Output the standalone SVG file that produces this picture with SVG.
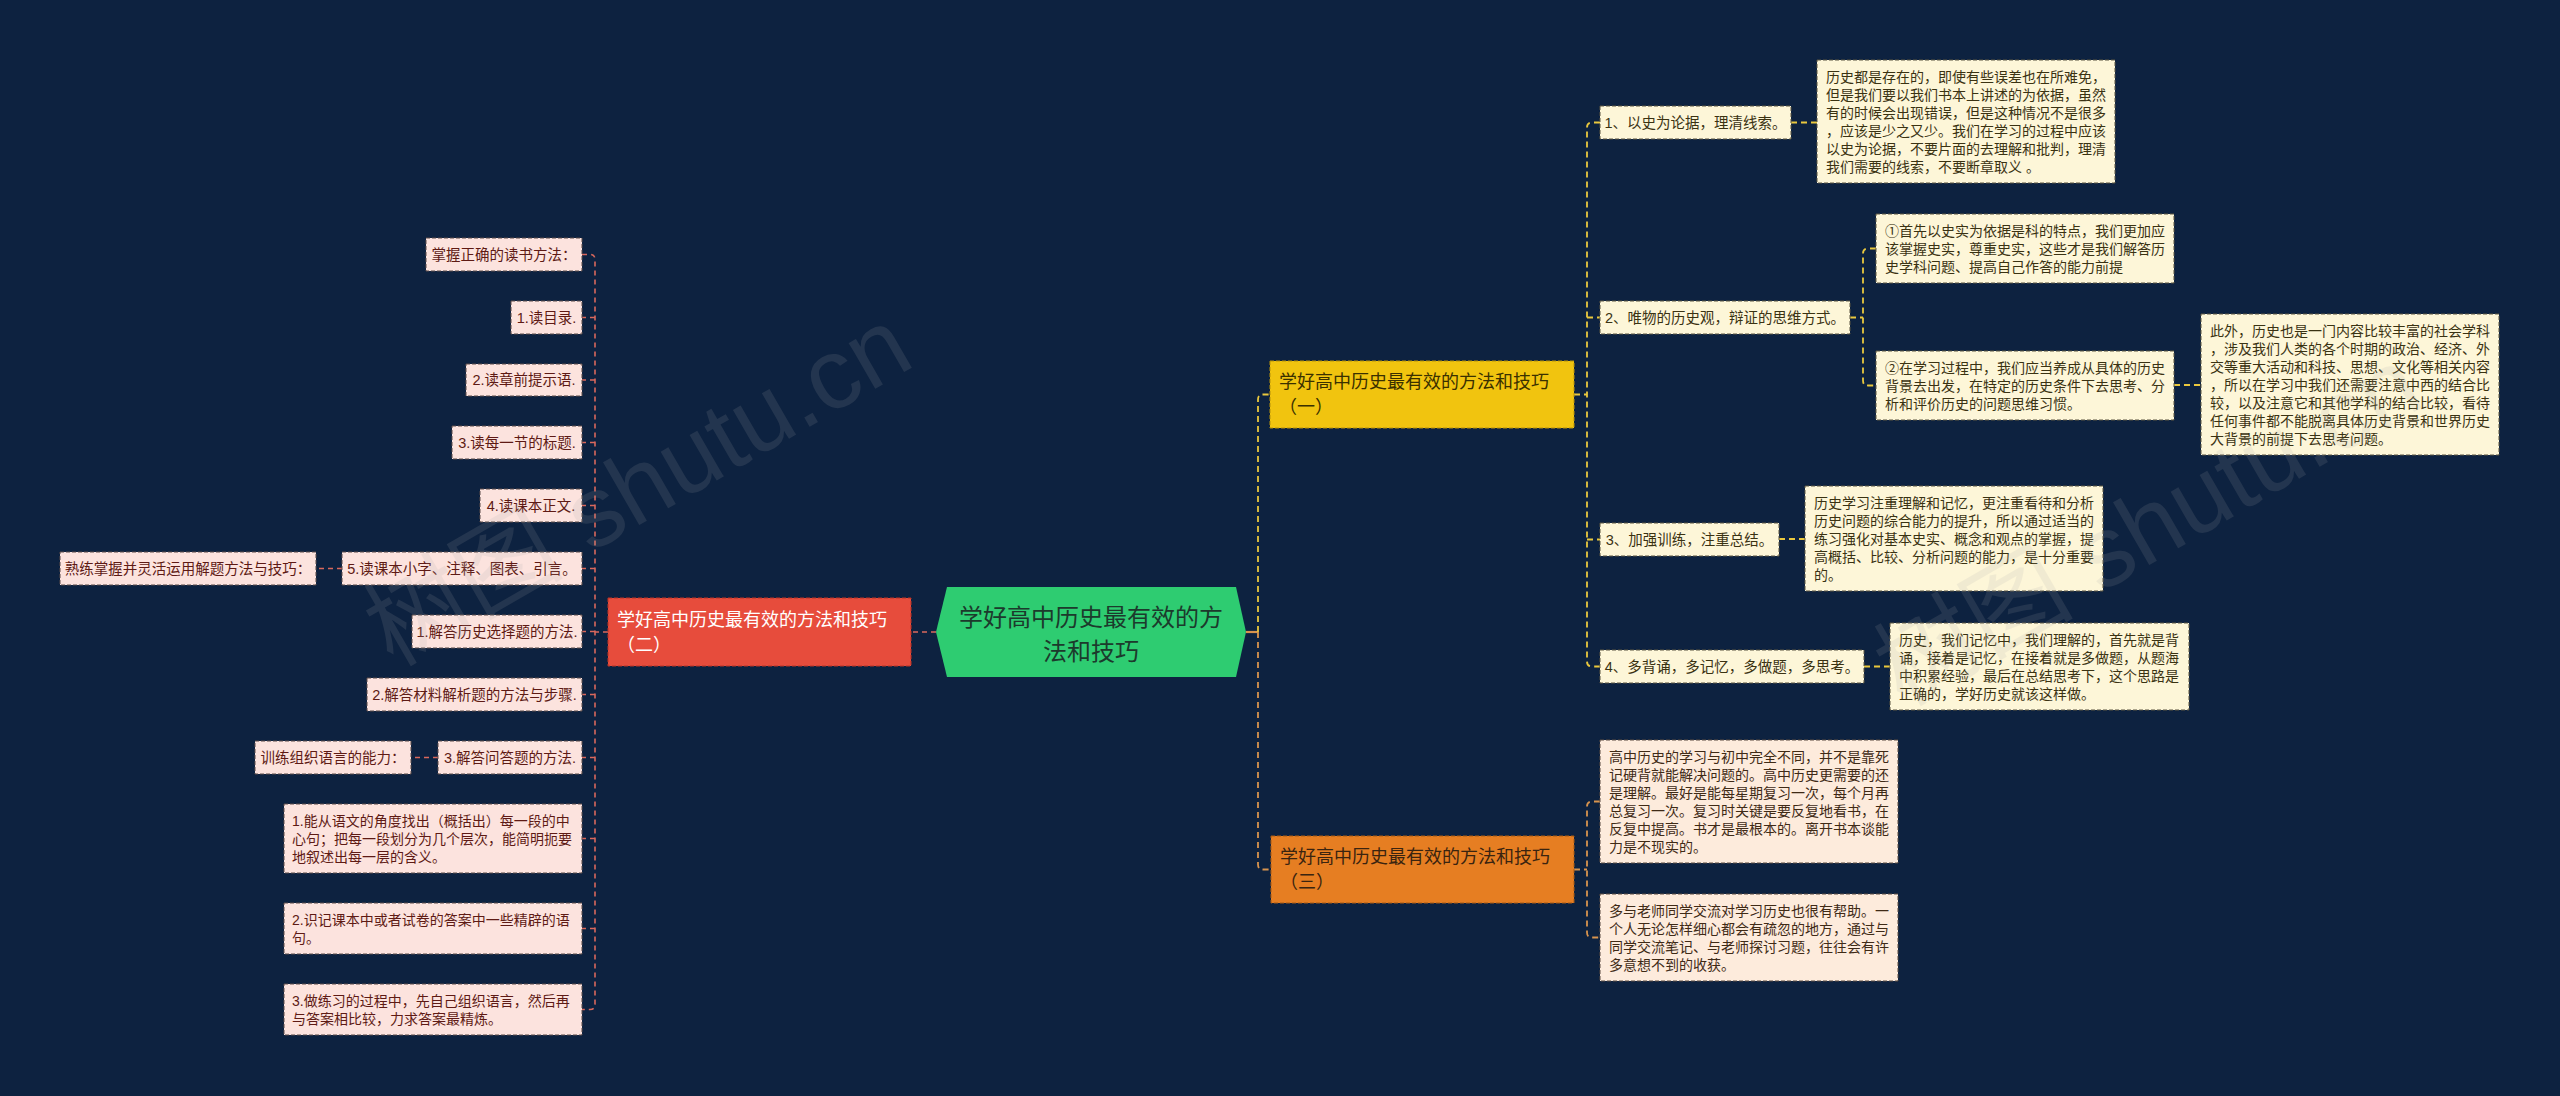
<svg xmlns="http://www.w3.org/2000/svg" width="2560" height="1096" viewBox="0 0 2560 1096">
<defs>
<style>
text{font-family:"Liberation Sans","Noto Sans CJK SC",sans-serif;}
.bg{fill:#0d2240;}
.lbox{fill:#fce3de;stroke:#5a4a48;stroke-width:1;stroke-dasharray:4 2;}
.ybox{fill:#fdf6d8;stroke:#5a5440;stroke-width:1;stroke-dasharray:4 2;}
.obox{fill:#fdebdc;stroke:#5a4a40;stroke-width:1;stroke-dasharray:4 2;}
.lt{fill:#5e1a14;font-size:14.5px;}
.yt{fill:#3a3212;font-size:14.5px;}
.ot{fill:#3f2a16;font-size:14.5px;}
.m{font-size:14px;}
.c{text-anchor:middle;}
.lc{fill:none;stroke:#d9685c;stroke-width:1.6;stroke-dasharray:5 4;}
.yc{fill:none;stroke:#e9c83e;stroke-width:1.8;stroke-dasharray:6 4;}
.oc{fill:none;stroke:#d8944e;stroke-width:1.8;stroke-dasharray:6 4;}
.wm{font-size:100px;fill:#a8a8a8;opacity:0.14;}
</style>
</defs>
<rect class="bg" x="0" y="0" width="2560" height="1096"/>

<g id="connectors">
<path class="lc" d="M936 632H911"/>
<path class="lc" d="M608 632H595"/>
<path class="lc" d="M582 254.5H590Q595 254.5 595 259.5V1004.5Q595 1009.5 590 1009.5H582"/>
<path class="lc" d="M595 317.5H582M595 380H582M595 442.5H582M595 505.5H582M595 568.5H582M595 631.5H582M595 694.5H582M595 757.5H582M595 838.5H582M595 928.5H582"/>
<path class="lc" d="M342 568.5H316"/>
<path class="lc" d="M438 757.5H411"/>
<path d="M1246 632H1258" fill="none" stroke="#d8944e" stroke-width="2.2"/>
<path class="yc" d="M1258 632V399.5Q1258 394.5 1263 394.5H1270"/>
<path class="oc" d="M1258 632V864.5Q1258 869.5 1263 869.5H1271"/>
<path class="yc" d="M1574 394.5H1587"/>
<path class="yc" d="M1600 122.5H1592Q1587 122.5 1587 127.5V661.5Q1587 666.5 1592 666.5H1600"/>
<path class="yc" d="M1587 317.5H1600M1587 539.5H1600"/>
<path class="yc" d="M1791 122.5H1817"/>
<path class="yc" d="M1850 317.5H1863"/>
<path class="yc" d="M1876 248.5H1868Q1863 248.5 1863 253.5V380.5Q1863 385.5 1868 385.5H1876"/>
<path class="yc" d="M2174 385H2201"/>
<path class="yc" d="M1779 539H1805"/>
<path class="yc" d="M1864 666.5H1890"/>
<path class="oc" d="M1574 869.5H1587"/>
<path class="oc" d="M1600 801.5H1592Q1587 801.5 1587 806.5V932.5Q1587 937.5 1592 937.5H1600"/>
</g>

<g id="root">
<polygon points="947,587 1236,587 1246,632 1236,677 947,677 936,632" fill="#2ecc71"/>
<text x="1091" y="617" text-anchor="middle" dominant-baseline="central" font-size="24" fill="#1c3a2c">学好高中历史最有效的方</text>
<text x="1091" y="651" text-anchor="middle" dominant-baseline="central" font-size="24" fill="#1c3a2c">法和技巧</text>
</g>

<g id="branch2">
<rect x="608" y="598" width="303" height="68" fill="#e74c3c" stroke="#b83226" stroke-width="1" stroke-dasharray="4 2"/>
<text x="617" y="620" dominant-baseline="central" font-size="18" fill="#ffffff">学好高中历史最有效的方法和技巧</text>
<text x="617" y="645" dominant-baseline="central" font-size="18" fill="#ffffff">（二）</text>
</g>

<g id="branch1">
<rect x="1270" y="361" width="304" height="67" fill="#f1c40f" stroke="#b8920a" stroke-width="1" stroke-dasharray="4 2"/>
<text x="1279" y="382" dominant-baseline="central" font-size="18" fill="#3a3000">学好高中历史最有效的方法和技巧</text>
<text x="1279" y="407" dominant-baseline="central" font-size="18" fill="#3a3000">（一）</text>
</g>

<g id="branch3">
<rect x="1271" y="836" width="303" height="67" fill="#e67e22" stroke="#a85a14" stroke-width="1" stroke-dasharray="4 2"/>
<text x="1280" y="857" dominant-baseline="central" font-size="18" fill="#3a2410">学好高中历史最有效的方法和技巧</text>
<text x="1280" y="882" dominant-baseline="central" font-size="18" fill="#3a2410">（三）</text>
</g>

<!-- left leaves -->
<g id="l0"><rect class="lbox" x="426" y="238" width="156" height="33"/><text class="lt c" x="504" y="254.5" dominant-baseline="central">掌握正确的读书方法：</text></g>
<g id="l1"><rect class="lbox" x="511" y="301" width="71" height="33"/><text class="lt c" x="546.5" y="317.5" dominant-baseline="central">1.读目录.</text></g>
<g id="l2"><rect class="lbox" x="466" y="364" width="116" height="32"/><text class="lt c" x="524" y="380" dominant-baseline="central">2.读章前提示语.</text></g>
<g id="l3"><rect class="lbox" x="452" y="426" width="130" height="33"/><text class="lt c" x="517" y="442.5" dominant-baseline="central">3.读每一节的标题.</text></g>
<g id="l4"><rect class="lbox" x="480" y="489" width="102" height="33"/><text class="lt c" x="531" y="505.5" dominant-baseline="central">4.读课本正文.</text></g>
<g id="l5"><rect class="lbox" x="342" y="552" width="240" height="33"/><text class="lt c" x="462" y="568.5" dominant-baseline="central">5.读课本小字、注释、图表、引言。</text></g>
<g id="l5a"><rect class="lbox" x="60" y="552" width="256" height="33"/><text class="lt c" x="188" y="568.5" dominant-baseline="central">熟练掌握并灵活运用解题方法与技巧：</text></g>
<g id="l6"><rect class="lbox" x="412" y="615" width="170" height="33"/><text class="lt c" x="497" y="631.5" dominant-baseline="central">1.解答历史选择题的方法.</text></g>
<g id="l7"><rect class="lbox" x="367" y="678" width="215" height="33"/><text class="lt c" x="474.5" y="694.5" dominant-baseline="central">2.解答材料解析题的方法与步骤.</text></g>
<g id="l8"><rect class="lbox" x="438" y="741" width="144" height="33"/><text class="lt c" x="510" y="757.5" dominant-baseline="central">3.解答问答题的方法.</text></g>
<g id="l8a"><rect class="lbox" x="255" y="741" width="156" height="33"/><text class="lt c" x="333" y="757.5" dominant-baseline="central">训练组织语言的能力：</text></g>
<g id="l9"><rect class="lbox" x="284" y="804" width="298" height="69"/>
<text class="lt m" x="292" dominant-baseline="central"><tspan x="292" y="821">1.能从语文的角度找出（概括出）每一段的中</tspan><tspan x="292" y="839">心句；把每一段划分为几个层次，能简明扼要</tspan><tspan x="292" y="857">地叙述出每一层的含义。</tspan></text></g>
<g id="l10"><rect class="lbox" x="284" y="903" width="298" height="51"/>
<text class="lt m" x="292" dominant-baseline="central"><tspan x="292" y="920">2.识记课本中或者试卷的答案中一些精辟的语</tspan><tspan x="292" y="938">句。</tspan></text></g>
<g id="l11"><rect class="lbox" x="284" y="984" width="298" height="51"/>
<text class="lt m" x="292" dominant-baseline="central"><tspan x="292" y="1001">3.做练习的过程中，先自己组织语言，然后再</tspan><tspan x="292" y="1019">与答案相比较，力求答案最精炼。</tspan></text></g>

<!-- right leaves (branch 1) -->
<g id="r1"><rect class="ybox" x="1600" y="106" width="191" height="33"/><text class="yt c" x="1695.5" y="122.5" dominant-baseline="central">1、以史为论据，理清线索。</text></g>
<g id="r1a"><rect class="ybox" x="1817" y="60" width="298" height="123"/>
<text class="yt m" dominant-baseline="central"><tspan x="1826" y="77">历史都是存在的，即使有些误差也在所难免，</tspan><tspan x="1826" y="95">但是我们要以我们书本上讲述的为依据，虽然</tspan><tspan x="1826" y="113">有的时候会出现错误，但是这种情况不是很多</tspan><tspan x="1826" y="131">，应该是少之又少。我们在学习的过程中应该</tspan><tspan x="1826" y="149">以史为论据，不要片面的去理解和批判，理清</tspan><tspan x="1826" y="167">我们需要的线索，不要断章取义 。</tspan></text></g>
<g id="r2"><rect class="ybox" x="1600" y="301" width="250" height="33"/><text class="yt c" x="1725" y="317.5" dominant-baseline="central">2、唯物的历史观，辩证的思维方式。</text></g>
<g id="r2a"><rect class="ybox" x="1876" y="214" width="298" height="69"/>
<text class="yt m" dominant-baseline="central"><tspan x="1885" y="231">①首先以史实为依据是科的特点，我们更加应</tspan><tspan x="1885" y="249">该掌握史实，尊重史实，这些才是我们解答历</tspan><tspan x="1885" y="267">史学科问题、提高自己作答的能力前提</tspan></text></g>
<g id="r2b"><rect class="ybox" x="1876" y="351" width="298" height="69"/>
<text class="yt m" dominant-baseline="central"><tspan x="1885" y="368">②在学习过程中，我们应当养成从具体的历史</tspan><tspan x="1885" y="386">背景去出发，在特定的历史条件下去思考、分</tspan><tspan x="1885" y="404">析和评价历史的问题思维习惯。</tspan></text></g>
<g id="r2c"><rect class="ybox" x="2201" y="314" width="298" height="141"/>
<text class="yt m" dominant-baseline="central"><tspan x="2210" y="331">此外，历史也是一门内容比较丰富的社会学科</tspan><tspan x="2210" y="349">，涉及我们人类的各个时期的政治、经济、外</tspan><tspan x="2210" y="367">交等重大活动和科技、思想、文化等相关内容</tspan><tspan x="2210" y="385">，所以在学习中我们还需要注意中西的结合比</tspan><tspan x="2210" y="403">较，以及注意它和其他学科的结合比较，看待</tspan><tspan x="2210" y="421">任何事件都不能脱离具体历史背景和世界历史</tspan><tspan x="2210" y="439">大背景的前提下去思考问题。</tspan></text></g>
<g id="r3"><rect class="ybox" x="1600" y="523" width="179" height="33"/><text class="yt c" x="1689.5" y="539.5" dominant-baseline="central">3、加强训练，注重总结。</text></g>
<g id="r3a"><rect class="ybox" x="1805" y="486" width="298" height="105"/>
<text class="yt m" dominant-baseline="central"><tspan x="1814" y="503">历史学习注重理解和记忆，更注重看待和分析</tspan><tspan x="1814" y="521">历史问题的综合能力的提升，所以通过适当的</tspan><tspan x="1814" y="539">练习强化对基本史实、概念和观点的掌握，提</tspan><tspan x="1814" y="557">高概括、比较、分析问题的能力，是十分重要</tspan><tspan x="1814" y="575">的。</tspan></text></g>
<g id="r4"><rect class="ybox" x="1600" y="650" width="264" height="33"/><text class="yt c" x="1732" y="666.5" dominant-baseline="central">4、多背诵，多记忆，多做题，多思考。</text></g>
<g id="r4a"><rect class="ybox" x="1890" y="623" width="299" height="87"/>
<text class="yt m" dominant-baseline="central"><tspan x="1899" y="640">历史，我们记忆中，我们理解的，首先就是背</tspan><tspan x="1899" y="658">诵，接着是记忆，在接着就是多做题，从题海</tspan><tspan x="1899" y="676">中积累经验，最后在总结思考下，这个思路是</tspan><tspan x="1899" y="694">正确的，学好历史就该这样做。</tspan></text></g>

<!-- right leaves (branch 3) -->
<g id="o1"><rect class="obox" x="1600" y="740" width="298" height="123"/>
<text class="ot m" dominant-baseline="central"><tspan x="1609" y="757">高中历史的学习与初中完全不同，并不是靠死</tspan><tspan x="1609" y="775">记硬背就能解决问题的。高中历史更需要的还</tspan><tspan x="1609" y="793">是理解。最好是能每星期复习一次，每个月再</tspan><tspan x="1609" y="811">总复习一次。复习时关键是要反复地看书，在</tspan><tspan x="1609" y="829">反复中提高。书才是最根本的。离开书本谈能</tspan><tspan x="1609" y="847">力是不现实的。</tspan></text></g>
<g id="o2"><rect class="obox" x="1600" y="894" width="298" height="87"/>
<text class="ot m" dominant-baseline="central"><tspan x="1609" y="911">多与老师同学交流对学习历史也很有帮助。一</tspan><tspan x="1609" y="929">个人无论怎样细心都会有疏忽的地方，通过与</tspan><tspan x="1609" y="947">同学交流笔记、与老师探讨习题，往往会有许</tspan><tspan x="1609" y="965">多意想不到的收获。</tspan></text></g>

<g id="watermarks">
<text class="wm" x="640" y="520" text-anchor="middle" transform="rotate(-30 640 490)">树图 shutu.cn</text>
<text class="wm" x="2150" y="560" text-anchor="middle" transform="rotate(-30 2150 530)">树图 shutu.cn</text>
</g>
</svg>
